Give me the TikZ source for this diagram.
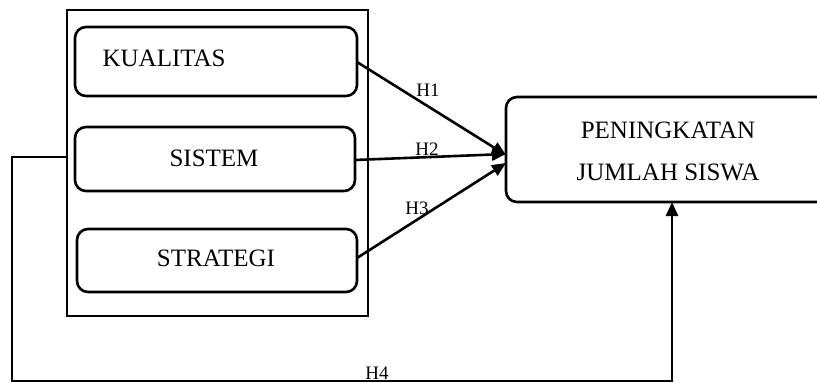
\documentclass[tikz,border=0pt]{standalone}
\usepackage{fontspec}
\setmainfont{Liberation Serif}
\usetikzlibrary{arrows.meta}
\begin{document}
\begin{tikzpicture}[x=1pt,y=-1pt,
  line width=2.6pt,
  varbox/.style={draw,rounded corners=11pt,inner sep=0pt},
  lbl/.style={font=\fontsize{25}{30}\selectfont},
  hyp/.style={font=\fontsize{19}{22}\selectfont,inner sep=0pt},
  link/.style={-{Triangle[length=14pt,width=12pt]}}
]
\useasboundingbox (0,0) rectangle (817,383);
\clip (0,0) rectangle (817,383);
% grouping frame around the independent variables
\draw (67,10) rectangle (368,316);
\coordinate (frameW) at (67,157);
% independent variables
\draw[varbox] (75,27) rectangle (357,96);
\node[lbl,anchor=west] (kual) at (98,58) {KUALITAS};
\coordinate (kualE) at (357,62);
\draw[varbox] (75,127) rectangle (355,191);
\node[lbl] (sist) at (214,158) {SISTEM};
\coordinate (sistE) at (355,160);
\draw[varbox] (77,229) rectangle (357,292);
\node[lbl] (strat) at (216,258) {STRATEGI};
\coordinate (stratE) at (357,258);
% dependent variable
\draw[varbox] (506,97) rectangle (840,202);
\node[lbl] (pen) at (668,130) {PENINGKATAN};
\node[lbl] (jum) at (668,172) {JUMLAH SISWA};
\coordinate (tgtW1) at (506,155);
\coordinate (tgtW2) at (506,154);
\coordinate (tgtW3) at (506,163);
\coordinate (tgtS) at (672,202);
% hypotheses H1--H3
\draw[link] (kualE) -- (tgtW1);
\draw[link] (sistE) -- (tgtW2);
\draw[link] (stratE) -- (tgtW3);
\node[hyp] (h1) at (428,90) {H1};
\node[hyp] (h2) at (427,149) {H2};
\node[hyp] (h3) at (417,208) {H3};
% simultaneous effect H4
\coordinate (c1) at (12,157);
\coordinate (c2) at (12,381);
\coordinate (c3) at (672,381);
\draw[link] (frameW) -- (c1) -- (c2) -- (c3) -- (tgtS);
\node[hyp] (h4) at (377,373) {H4};
\end{tikzpicture}
\end{document}
